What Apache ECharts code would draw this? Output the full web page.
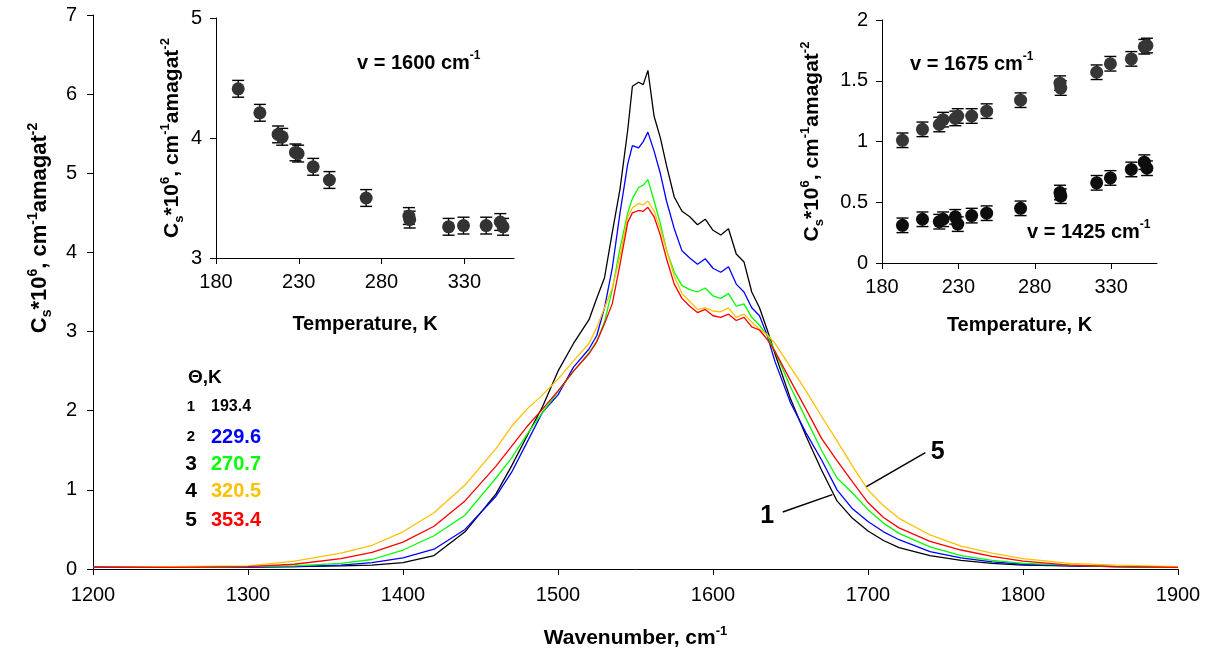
<!DOCTYPE html>
<html>
<head>
<meta charset="utf-8">
<title>Collision-induced spectra</title>
<script src="https://cdn.jsdelivr.net/npm/echarts@6/dist/echarts.min.js"></script>
<style>
  html, body { margin: 0; padding: 0; background: #fff; }
  #chart { width: 1212px; height: 657px; }
</style>
</head>
<body>
<div id="chart"></div>
<script>
// ---- Spectra: wavenumber grid (cm-1) and band intensity for each temperature ----
const wavenumber = [1200,1250,1300,1330,1360,1380,1400,
  1420,1440,1460,1470,1480,1490,1500,
  1510,1520,1525,1530,1535,1540,1545,
  1548,1552,1555,1558,1562,1566,1570,
  1575,1580,1585,1590,1595,1600,1605,
  1610,1615,1620,1625,1630,1635,1640,
  1650,1660,1670,1680,1690,1700,1710,
  1720,1740,1760,1780,1800,1830,1860,
  1900];

const c193 = [0.02,0.02,0.03,0.03,0.04,0.05,0.08,
  0.17,0.47,0.95,1.30,1.68,2.05,2.50,
  2.85,3.15,3.42,3.68,4.25,4.80,5.55,
  6.10,6.15,6.12,6.30,5.72,5.45,5.10,
  4.70,4.52,4.45,4.35,4.42,4.28,4.22,
  4.30,3.98,3.88,3.50,3.30,3.02,2.72,
  2.15,1.68,1.25,0.86,0.64,0.48,0.36,
  0.27,0.17,0.11,0.07,0.05,0.04,0.03,
  0.02];

const c229 = [0.03,0.03,0.02,0.03,0.05,0.08,0.14,
  0.25,0.50,0.92,1.22,1.60,1.98,2.20,
  2.55,2.78,2.95,3.30,3.80,4.50,5.12,
  5.35,5.32,5.40,5.52,5.28,5.00,4.65,
  4.30,4.02,3.93,3.85,3.92,3.80,3.75,
  3.82,3.60,3.50,3.30,3.20,2.95,2.62,
  2.10,1.72,1.38,1.00,0.76,0.60,0.47,
  0.37,0.22,0.14,0.09,0.06,0.04,0.03,
  0.02];

const c270 = [0.02,0.02,0.03,0.04,0.07,0.12,0.24,
  0.42,0.68,1.15,1.40,1.70,1.98,2.24,
  2.50,2.73,2.88,3.12,3.53,4.05,4.50,
  4.68,4.82,4.85,4.92,4.65,4.37,4.03,
  3.75,3.58,3.53,3.50,3.55,3.45,3.42,
  3.48,3.32,3.35,3.18,3.08,2.95,2.75,
  2.30,1.90,1.50,1.15,0.96,0.75,0.58,
  0.45,0.28,0.17,0.11,0.07,0.05,0.03,
  0.02];

const c320 = [0.02,0.03,0.04,0.10,0.20,0.30,0.47,
  0.71,1.06,1.52,1.80,2.02,2.20,2.40,
  2.63,2.85,3.05,3.30,3.55,3.95,4.45,
  4.56,4.62,4.60,4.65,4.52,4.30,4.03,
  3.70,3.48,3.38,3.28,3.30,3.26,3.25,
  3.30,3.18,3.22,3.12,3.03,2.96,2.85,
  2.55,2.25,1.93,1.62,1.30,1.00,0.80,
  0.64,0.43,0.29,0.20,0.13,0.07,0.05,
  0.03];

const c353 = [0.02,0.02,0.03,0.06,0.13,0.21,0.34,
  0.54,0.86,1.30,1.55,1.80,2.02,2.25,
  2.50,2.72,2.87,3.10,3.35,3.85,4.38,
  4.50,4.53,4.52,4.57,4.45,4.22,3.92,
  3.60,3.42,3.32,3.24,3.28,3.20,3.18,
  3.22,3.14,3.18,3.06,3.02,2.90,2.75,
  2.38,2.02,1.65,1.37,1.10,0.84,0.65,
  0.52,0.35,0.24,0.16,0.10,0.05,0.03,
  0.02];

const spectraTemps = ['193.4', '229.6', '270.7', '320.5', '353.4'];
const spectraColors = ['#000000', '#0000ff', '#00ff00', '#ffc000', '#ff0000'];

// ---- Temperature dependence at fixed wavenumbers ----
const temperature = [193.4, 206.5, 217.5, 220.0, 228.0, 229.6, 238.7, 248.5, 270.7, 296.5, 297.0, 320.5, 329.5, 343.2, 351.7, 353.4];
const c1600 = [4.41, 4.21, 4.03, 4.01, 3.88, 3.87, 3.76, 3.65, 3.50, 3.35, 3.32, 3.26, 3.27, 3.27, 3.30, 3.26];
const err1600 = [0.07, 0.07, 0.07, 0.07, 0.07, 0.07, 0.07, 0.07, 0.07, 0.07, 0.07, 0.07, 0.07, 0.07, 0.07, 0.07];
const c1675 = [1.01, 1.10, 1.14, 1.18, 1.19, 1.21, 1.21, 1.25, 1.34, 1.48, 1.44, 1.57, 1.64, 1.68, 1.78, 1.79];
const err1675 = [0.06, 0.06, 0.06, 0.06, 0.06, 0.06, 0.06, 0.06, 0.06, 0.06, 0.06, 0.06, 0.06, 0.06, 0.06, 0.06];
const c1425 = [0.31, 0.36, 0.34, 0.36, 0.38, 0.32, 0.39, 0.41, 0.45, 0.58, 0.55, 0.66, 0.70, 0.77, 0.83, 0.78];
const err1425 = [0.06, 0.06, 0.06, 0.06, 0.06, 0.06, 0.06, 0.06, 0.06, 0.06, 0.06, 0.06, 0.06, 0.06, 0.06, 0.06];

const mainXTicks = [1200, 1900, 100];
const mainYTicks = [0, 7, 1];
const insetTempTicks = [180, 230, 280, 330];

// ---- styling ----
const FONT = "'Liberation Sans', Arial, Helvetica, sans-serif";

function richText(size) {
  const sm = Math.round(size * 0.62);
  const base = { fontFamily: FONT, fontWeight: 'bold', color: '#000', fill: '#000' };
  return {
    b: Object.assign({}, base, { fontSize: size, lineHeight: size + 6 }),
    sup: Object.assign({}, base, { fontSize: sm, lineHeight: sm, verticalAlign: 'top' }),
    sub: Object.assign({}, base, { fontSize: sm, lineHeight: sm, verticalAlign: 'bottom' })
  };
}
const csUnit = '{b|C}{sub|s}{b|*10}{sup|6}{b|, cm}{sup|-1}{b|amagat}{sup|-2}';

function plain(v) { return String(v); }

function axisBase(extra) {
  return Object.assign({
    type: 'value',
    axisLine: { show: true, onZero: false, lineStyle: { color: '#000', width: 1 } },
    axisTick: { show: true, length: 6, lineStyle: { color: '#000', width: 1 } },
    axisLabel: { color: '#000', fontSize: 20, fontFamily: FONT, margin: 14, formatter: plain },
    splitLine: { show: false }
  }, extra);
}

function pairs(xs, ys) { return xs.map((x, i) => [x, ys[i]]); }
function bars(xs, ys, es) { return xs.map((x, i) => [x, ys[i] - es[i], ys[i] + es[i]]); }

function errorBarSeries(idx, data) {
  return {
    type: 'custom', xAxisIndex: idx, yAxisIndex: idx, data: data, z: 3,
    renderItem: function (params, api) {
      const x = api.value(0);
      const lo = api.coord([x, api.value(1)]);
      const hi = api.coord([x, api.value(2)]);
      const w = 6;
      const st = { stroke: '#000', lineWidth: 1.4 };
      return {
        type: 'group', children: [
          { type: 'line', shape: { x1: lo[0], y1: lo[1], x2: hi[0], y2: hi[1] }, style: st },
          { type: 'line', shape: { x1: lo[0] - w, y1: lo[1], x2: lo[0] + w, y2: lo[1] }, style: st },
          { type: 'line', shape: { x1: hi[0] - w, y1: hi[1], x2: hi[0] + w, y2: hi[1] }, style: st }
        ]
      };
    }
  };
}

function dotSeries(idx, data, color) {
  return {
    type: 'scatter', xAxisIndex: idx, yAxisIndex: idx, data: data, z: 4,
    symbol: 'circle', symbolSize: 13, itemStyle: { color: color, opacity: 1 }
  };
}

const spectra = [c193, c229, c270, c320, c353];
const insetLabel = { color: '#000', fontSize: 20, fontFamily: FONT, margin: 14, formatter: plain, customValues: insetTempTicks };
const insetTick = { show: true, length: 6, lineStyle: { color: '#000' }, customValues: insetTempTicks };
const insetName = { fontSize: 20, fontWeight: 'bold', fontFamily: FONT, color: '#000' };

const option = {
  animation: false,
  backgroundColor: '#fff',
  grid: [
    { left: 93, top: 15, right: 34, bottom: 88 },
    { left: 216, top: 18, width: 298, height: 240 },
    { left: 882, top: 20, width: 275, height: 243 }
  ],
  xAxis: [
    axisBase({
      gridIndex: 0, min: mainXTicks[0], max: mainXTicks[1], interval: mainXTicks[2],
      axisLabel: { color: '#000', fontSize: 20, fontFamily: FONT, margin: 16, formatter: plain },
      name: '{b|Wavenumber, cm}{sup|-1}', nameLocation: 'middle', nameGap: 56,
      nameTextStyle: { rich: richText(21) }
    }),
    axisBase({
      gridIndex: 1, min: 180, max: 360, axisLabel: insetLabel, axisTick: insetTick,
      name: 'Temperature, K', nameLocation: 'middle', nameGap: 56, nameTextStyle: insetName
    }),
    axisBase({
      gridIndex: 2, min: 180, max: 360, axisLabel: insetLabel, axisTick: insetTick,
      name: 'Temperature, K', nameLocation: 'middle', nameGap: 52, nameTextStyle: insetName
    })
  ],
  yAxis: [
    axisBase({ gridIndex: 0, min: mainYTicks[0], max: mainYTicks[1], interval: mainYTicks[2],
      axisLabel: { color: '#000', fontSize: 20, fontFamily: FONT, margin: 16, formatter: plain } }),
    axisBase({ gridIndex: 1, min: 3, max: 5, interval: 1,
      name: csUnit, nameLocation: 'middle', nameRotate: 90, nameGap: 30,
      nameTextStyle: { rich: richText(21) } }),
    axisBase({ gridIndex: 2, min: 0, max: 2, interval: 0.5,
      name: csUnit, nameLocation: 'middle', nameRotate: 90, nameGap: 56,
      nameTextStyle: { rich: richText(21) } })
  ],
  series: spectra.map((vals, i) => ({
    type: 'line', xAxisIndex: 0, yAxisIndex: 0, name: spectraTemps[i],
    data: pairs(wavenumber, vals), showSymbol: false, symbol: 'none',
    lineStyle: { color: spectraColors[i], width: 1.3 }, z: 2 + i
  })).concat([
    errorBarSeries(1, bars(temperature, c1600, err1600)),
    dotSeries(1, pairs(temperature, c1600), '#333333'),
    errorBarSeries(2, bars(temperature, c1675, err1675)),
    dotSeries(2, pairs(temperature, c1675), '#363636'),
    errorBarSeries(2, bars(temperature, c1425, err1425)),
    dotSeries(2, pairs(temperature, c1425), '#0d0d0d')
  ])
};

const chart = echarts.init(document.getElementById('chart'), null, { renderer: 'canvas' });
chart.setOption(option);

// ---- text overlays: y-axis title, temperature key, curve tags, inset captions ----
function at(x, y) { return chart.convertToPixel({ gridIndex: 0 }, [x, y]); }

function textEl(x, y, text, size, color, align) {
  return {
    type: 'text', x: x, y: y, z: 100,
    style: {
      text: text, fill: color, fontSize: size, fontWeight: 'bold', fontFamily: FONT,
      align: align || 'left', verticalAlign: 'middle'
    }
  };
}
function richEl(x, y, text, size, align, rotation) {
  return {
    type: 'text', x: x, y: y, z: 100, rotation: rotation || 0,
    style: { text: text, rich: richText(size), align: align || 'left', verticalAlign: 'middle', fill: '#000' }
  };
}

const graphics = [];
graphics.push(richEl(40, 228, csUnit, 22, 'center', Math.PI / 2));

// temperature key
graphics.push(textEl(188, 378, 'Θ,K', 19, '#000', 'left'));
const keyRows = [
  { n: '1', size: 15, vSize: 16, y: 407 },
  { n: '2', size: 15, vSize: 20, y: 437 },
  { n: '3', size: 21, vSize: 20, y: 464 },
  { n: '4', size: 21, vSize: 20, y: 491 },
  { n: '5', size: 21, vSize: 20, y: 520 }
];
keyRows.forEach((r, i) => {
  graphics.push(textEl(191, r.y, r.n, r.size, '#000', 'center'));
  graphics.push(textEl(211, r.y, spectraTemps[i], r.vSize, spectraColors[i], 'left'));
});

// curve tags with leader lines (data coordinates)
const tag1 = { label: [1635, 0.67], from: [1645, 0.72], to: [1677, 0.94] };
const tag5 = { label: [1745, 1.48], from: [1737, 1.47], to: [1699, 1.04] };
[[tag1, '1'], [tag5, '5']].forEach(([t, s]) => {
  const a = at(t.from[0], t.from[1]);
  const b = at(t.to[0], t.to[1]);
  const p = at(t.label[0], t.label[1]);
  graphics.push({ type: 'line', z: 100, shape: { x1: a[0], y1: a[1], x2: b[0], y2: b[1] },
    style: { stroke: '#000', lineWidth: 1.5 } });
  graphics.push(textEl(p[0], p[1], s, 25, '#000', 'center'));
});

// inset captions
graphics.push(richEl(357, 63, '{b|v = 1600 cm}{sup|-1}', 20, 'left'));
graphics.push(richEl(910, 64, '{b|v = 1675 cm}{sup|-1}', 20, 'left'));
graphics.push(richEl(1027, 232, '{b|v = 1425 cm}{sup|-1}', 20, 'left'));

chart.setOption({ graphic: graphics });
</script>
</body>
</html>
